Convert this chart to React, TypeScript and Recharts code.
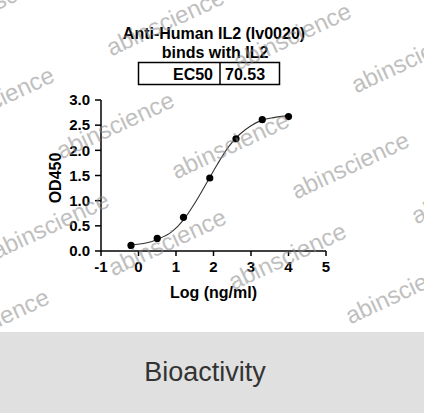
import { ComposedChart, Line, Scatter, XAxis, YAxis } from 'recharts'

// measured points: log concentration vs OD450
const logConc = [-0.2, 0.5, 1.2, 1.9, 2.6, 3.3, 4.0]
const od450 = [0.11, 0.25, 0.67, 1.45, 2.23, 2.61, 2.67]

// fitted curve
const curveX = [-0.2, 0.2, 0.5, 0.9, 1.2, 1.5, 1.8, 2.1, 2.4, 2.7, 3.0, 3.3, 3.6, 4.0]
const curveY = [0.12, 0.16, 0.23, 0.39, 0.62, 0.95, 1.33, 1.72, 2.07, 2.32, 2.49, 2.6, 2.65, 2.69]

const xTicks = [-1, 0, 1, 2, 3, 4, 5]
const yTicks = [0, 0.5, 1, 1.5, 2, 2.5, 3]

const points = logConc.map((x, i) => ({ x, y: od450[i] }))
const curve = curveX.map((x, i) => ({ x, y: curveY[i] }))

// watermark centers
const marks = [
  [230, 145], [115, 125], [350, 165], [167, 242], [287, 256], [50, 225],
  [165, 22], [292, 36], [410, 59], [-5, 100], [404, 290], [-10, 322],
  [10, -5], [470, 190],
]

const FONT = '"Liberation Sans", Arial, Helvetica, sans-serif'
const tickStyle = { fontSize: 15, fontWeight: 700, fill: '#000', fontFamily: FONT }

function Dot(props: any) {
  return <circle cx={props.cx} cy={props.cy} r={3.6} fill="#000" />
}

export default function App() {
  return (
    <div style={{ position: 'absolute', left: 0, top: 0, width: 424, height: 416, background: '#fff', fontFamily: FONT }}>
      <ComposedChart width={424} height={332} margin={{ top: 100, right: 98, bottom: 0, left: 0 }}>
        <XAxis
          type="number"
          dataKey="x"
          domain={[-1, 5]}
          ticks={xTicks}
          interval={0}
          allowDataOverflow
          height={81}
          stroke="#000"
          strokeWidth={1.5}
          tickSize={5}
          tickMargin={5}
          tick={tickStyle}
          label={{ value: 'Log (ng/ml)', position: 'insideBottom', offset: 34, style: { fontSize: 16, fontWeight: 700, fill: '#000', fontFamily: FONT } }}
        />
        <YAxis
          type="number"
          dataKey="y"
          domain={[0, 3]}
          ticks={yTicks}
          interval={0}
          width={101}
          stroke="#000"
          strokeWidth={1.5}
          tickSize={6}
          tickMargin={5}
          tick={tickStyle}
          tickFormatter={(v: number) => v.toFixed(1)}
        />
        <Line
          data={curve}
          dataKey="y"
          type="monotone"
          stroke="#333"
          strokeWidth={1.1}
          dot={false}
          activeDot={false}
          isAnimationActive={false}
        />
        <Scatter data={points} dataKey="y" shape={Dot} isAnimationActive={false} />
      </ComposedChart>

      <svg width={424} height={416} style={{ position: 'absolute', left: 0, top: 0, pointerEvents: 'none' }}>
        <text x={214} y={38.5} textAnchor="middle" fontSize={16} fontWeight={700} fontFamily={FONT}>
          Anti-Human IL2 (lv0020)
        </text>
        <text x={215} y={57.5} textAnchor="middle" fontSize={16} fontWeight={700} fontFamily={FONT}>
          binds with IL2
        </text>
        <rect x={138.5} y={62.5} width={141} height={22} fill="none" stroke="#000" strokeWidth={1.5} />
        <line x1={220} y1={62.5} x2={220} y2={84.5} stroke="#000" strokeWidth={1.5} />
        <text x={213} y={79.5} textAnchor="end" fontSize={16} fontWeight={700} fontFamily={FONT}>EC50</text>
        <text x={225} y={79.5} fontSize={16} fontWeight={700} fontFamily={FONT}>70.53</text>
        <text
          x={55}
          y={178}
          textAnchor="middle"
          dominantBaseline="central"
          transform="rotate(-90 55 178)"
          fontSize={16}
          fontWeight={700}
          fontFamily={FONT}
        >
          OD450
        </text>
        {marks.map(([cx, cy], i) => (
          <text
            key={i}
            x={cx}
            y={cy}
            textAnchor="middle"
            dominantBaseline="central"
            transform={`rotate(-25 ${cx} ${cy})`}
            fontSize={24}
            fontFamily={FONT}
            fill="#8c8c8c"
            opacity={0.55}
          >
            abinscience
          </text>
        ))}
      </svg>

      <div
        style={{
          position: 'absolute', left: 0, top: 332, width: 424, height: 81,
          background: '#dfe0df', display: 'flex', alignItems: 'center', justifyContent: 'center',
        }}
      >
        <span style={{ fontSize: 27, color: '#333', fontFamily: FONT, marginLeft: -14, marginTop: -1 }}>Bioactivity</span>
      </div>
    </div>
  )
}
